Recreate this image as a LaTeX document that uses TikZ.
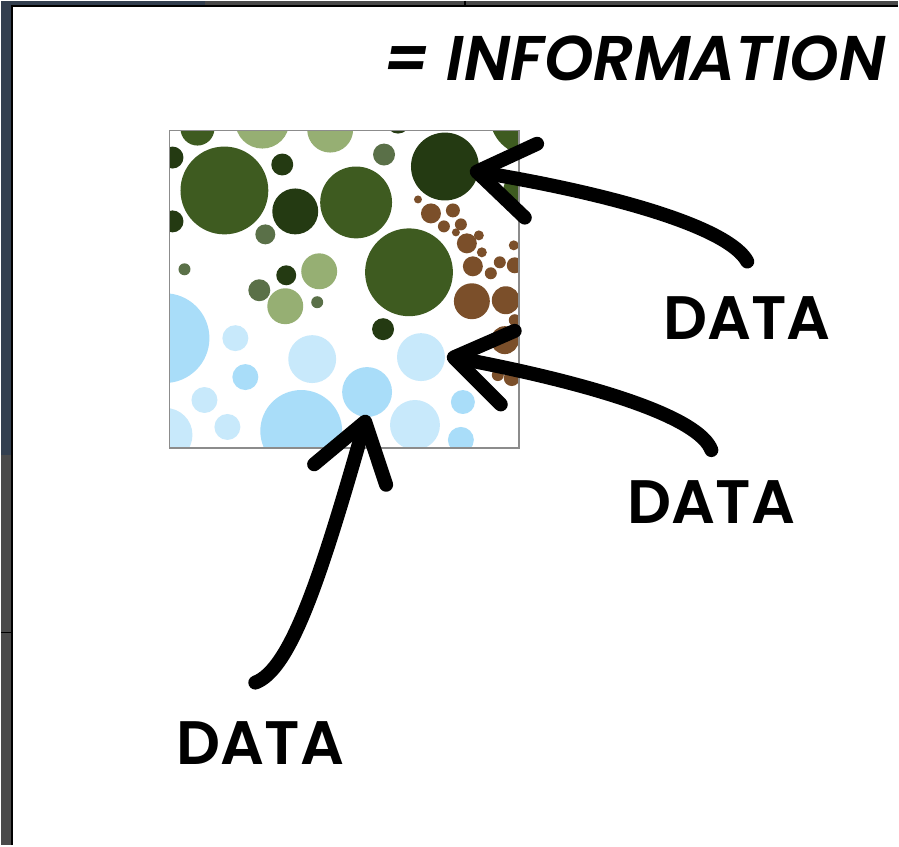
\documentclass[tikz,border=0pt]{standalone}
\usepackage{fontspec}
\setsansfont{Poppins}[BoldFont=Poppins SemiBold, BoldItalicFont=Poppins SemiBold Italic]
\usepackage{tikz}
\usetikzlibrary{arrows.meta,positioning}
\definecolor{framedark}{HTML}{333F4F}
\definecolor{framegrey}{HTML}{4A4A4A}
\definecolor{boxgrey}{HTML}{8C8C8C}
\definecolor{leafmid}{HTML}{3E5B20}
\definecolor{leafdark}{HTML}{243A12}
\definecolor{leaflight}{HTML}{96AF73}
\definecolor{leafgrey}{HTML}{5A7048}
\definecolor{soilbrown}{HTML}{7B4F2A}
\definecolor{waterblue}{HTML}{A9DDF9}
\definecolor{waterpale}{HTML}{C8E9FB}

\begin{document}
\begin{tikzpicture}[
    x=0.02cm, y=-0.02cm,
    datatext/.style={
        font=\sffamily\bfseries\fontsize{35}{40}\selectfont,
        inner sep=0pt
    },
    titletext/.style={
        font=\sffamily\bfseries\itshape\fontsize{36}{42}\selectfont,
        inner sep=0pt
    },
    arrow/.style={-{Straight Barb[length=1.1cm, width=1.5cm, round]},
        line width=8pt, line cap=round, draw=black}
]
    % window frame
    \fill[white] (0,0) rectangle (899,846);
    \fill[framedark] (0,0) rectangle (10,455);
    \fill[framegrey] (0,455) rectangle (10,846);
    \fill[framedark] (0,0) rectangle (205,4);
    \fill[framegrey] (205,0) rectangle (899,4);
    \draw[line width=1pt] (0,633) -- (10,633);
    \draw[line width=1pt] (465,0) -- (465,4);
    \draw[line width=1.2pt] (11,846) -- (11,5) -- (899,5);

    % bubble picture
    \begin{scope}
        \clip (169,130) rectangle (519,448);
        \foreach \x/\y/\r/\c in {
            224/190/44/leafmid, 197/128/17/leafmid, 356/202/36/leafmid,
            409/272/44/leafmid, 530/115/40/leafmid, 525/192/22/leafmid,
            172/157/11/leafdark, 172/221/11/leafdark, 282/164/11/leafdark,
            295/211/23/leafdark, 398/121/12/leafdark, 445/166/34/leafdark,
            286/275/10/leafdark, 383/329/11/leafdark,
            262/121/27/leaflight, 330/129/23/leaflight,
            319/271/18/leaflight, 285/306/18/leaflight,
            265/234/10/leafgrey, 384/154/11/leafgrey, 184/269/6/leafgrey,
            259/290/11/leafgrey, 317/302/6/leafgrey,
            164/338/45/waterblue, 245/377/13/waterblue, 301/431/41/waterblue,
            367/392/25/waterblue, 463/402/12/waterblue, 461/440/13/waterblue,
            235/338/13/waterpale, 204/400/13/waterpale, 165/435/27/waterpale,
            227/427/13/waterpale, 312/359/24/waterpale, 421/357/24/waterpale,
            415/425/25/waterpale,
            418/199/4/soilbrown, 431/213/10/soilbrown, 453/210/7/soilbrown,
            444/226/6/soilbrown, 461/224/6/soilbrown, 456/232/4/soilbrown,
            467/243/10/soilbrown, 479/235/5/soilbrown, 482/252/5/soilbrown,
            473/266/10/soilbrown, 491/273/6/soilbrown, 472/301/18/soilbrown,
            506/300/14/soilbrown, 505/340/14/soilbrown, 500/262/6/soilbrown,
            515/265/8/soilbrown, 515/320/6/soilbrown, 512/378/8/soilbrown,
            498/375/6/soilbrown, 514/245/5/soilbrown}
            \fill[\c] (\x,\y) circle[radius=\r];
    \end{scope}
    \draw[draw=boxgrey, line width=1pt] (169,130) rectangle (519,448);

    % texts
    \node[titletext] (title) at (635,58) {= INFORMATION};
    \node[datatext] (data1) at (748,318) {DATA};
    \node[datatext] (data2) at (712,502) {DATA};
    \node[datatext] (data3) at (260,744) {DATA};

    \coordinate (tip1) at (470,170);
    \coordinate (tip2) at (447,356);
    \coordinate (tip3) at (367,415);

    \draw[arrow] ([yshift=0.7cm]data1.north) .. controls (730,228) and (620,195) .. (tip1);
    \draw[arrow] ([yshift=0.6cm]data2.north) .. controls (700,418) and (600,385) .. (tip2);
    \draw[arrow] ([xshift=-0.1cm, yshift=0.78cm]data3.north) .. controls (290,670) and (320,580) .. (tip3);
\end{tikzpicture}
\end{document}
